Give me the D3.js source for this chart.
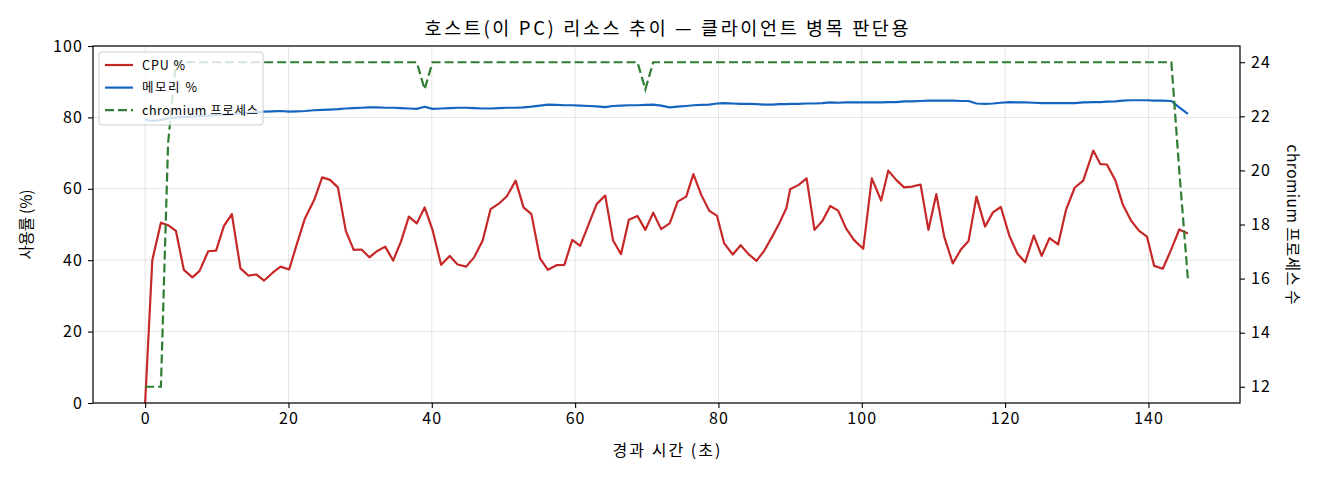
<!DOCTYPE html>
<html>
<head>
<meta charset="utf-8">
<script src="https://cdn.jsdelivr.net/npm/d3@7"></script>
<style>
  body { margin: 0; background: #fff; }
  svg text { font-family: "Noto Sans CJK KR", "Noto Sans", sans-serif; fill: #000; }
</style>
</head>
<body>
<svg width="1320" height="480"></svg>
<script>
'use strict';

// sample times (seconds since start)
var times = [0, 1.0, 2.2, 3.2, 4.3, 5.4, 6.6, 7.6, 8.8, 9.9, 11.0, 12.1, 13.3, 14.4, 15.5, 16.6, 17.8, 18.9, 20.1,
  21.2, 22.3, 23.6, 24.7, 25.8, 26.9, 28.0, 29.1, 30.2, 31.3, 32.4, 33.5, 34.6, 35.7, 36.8, 37.9, 39.0, 40.1,
  41.3, 42.5, 43.6, 44.8, 45.9, 47.1, 48.2, 49.4, 50.5, 51.7, 52.8, 53.9, 55.1, 56.2, 57.4, 58.5, 59.6, 60.7,
  61.9, 63.0, 64.2, 65.3, 66.4, 67.5, 68.7, 69.8, 70.9, 72.0, 73.2, 74.3, 75.5, 76.5, 77.6, 78.7, 79.8, 80.8,
  82.0, 83.1, 84.2, 85.3, 86.4, 87.5, 88.6, 89.5, 90.0, 91.2, 92.3, 93.4, 94.5, 95.6, 96.7, 97.8, 98.9, 100.2,
  101.4, 102.7, 103.7, 104.8, 105.9, 107.0, 108.2, 109.3, 110.4, 111.5, 112.7, 113.8, 114.9, 116.0, 117.2, 118.3,
  119.4, 120.6, 121.7, 122.8, 124.0, 125.1, 126.2, 127.4, 128.5, 129.7, 130.9, 132.3, 133.3, 134.2, 135.4, 136.4,
  137.6, 138.7, 139.8, 140.8, 142.0, 143.2, 144.3, 145.5];

var cpu = [0, 40.0, 50.5, 49.8, 48.2, 37.3, 35.2, 37.0, 42.5, 42.7, 49.6, 52.9, 37.7, 35.7, 36.0, 34.3, 36.5, 38.2, 37.4,
  44.7, 51.7, 56.9, 63.2, 62.5, 60.4, 48.2, 42.9, 43.0, 40.8, 42.6, 43.8, 39.9, 45.2, 52.2, 50.3, 54.8, 48.5,
  38.7, 41.2, 38.8, 38.2, 40.8, 45.5, 54.3, 55.9, 58.0, 62.3, 54.8, 52.9, 40.5, 37.3, 38.6, 38.7, 45.7, 44.0,
  50.1, 55.7, 58.1, 45.5, 41.7, 51.3, 52.4, 48.5, 53.3, 48.7, 50.3, 56.4, 57.8, 64.1, 58.3, 53.9, 52.4, 44.7,
  41.6, 44.2, 41.7, 39.8, 42.7, 46.6, 50.8, 54.7, 59.9, 61.1, 62.9, 48.5, 51.0, 55.2, 53.9, 48.9, 45.7, 43.2,
  62.9, 56.7, 65.1, 62.5, 60.4, 60.6, 61.2, 48.5, 58.5, 46.6, 39.1, 42.9, 45.4, 57.8, 49.4, 53.4,
  54.9, 46.8, 41.9, 39.4, 46.9, 41.2, 46.2, 44.4, 54.1, 60.3, 62.3, 70.7, 66.9, 66.8, 62.3, 55.7,
  51.0, 48.2, 46.6, 38.4, 37.6, 43.1, 48.6, 47.5];

var memory = [79.4, 79.0, 79.3, 79.7, 80.0, 80.1, 80.2, 80.4, 80.5, 80.7, 80.8, 80.9, 81.1, 81.3, 81.4, 81.6, 81.7, 81.8, 81.6,
  81.7, 81.8, 82.0, 82.1, 82.2, 82.3, 82.5, 82.6, 82.7, 82.8, 82.8, 82.7, 82.7, 82.6, 82.5, 82.4, 83.0, 82.4,
  82.5, 82.6, 82.7, 82.7, 82.6, 82.5, 82.5, 82.6, 82.7, 82.7, 82.8, 83.0, 83.3, 83.6, 83.5, 83.4, 83.4, 83.3,
  83.2, 83.1, 82.9, 83.2, 83.3, 83.4, 83.4, 83.5, 83.6, 83.3, 82.8, 83.0, 83.2, 83.4, 83.5, 83.6, 83.9, 84.0,
  83.9, 83.8, 83.8, 83.7, 83.6, 83.6, 83.7, 83.7, 83.8, 83.8, 83.9, 83.9, 84.0, 84.2, 84.1, 84.2, 84.2, 84.2,
  84.2, 84.2, 84.3, 84.3, 84.5, 84.5, 84.6, 84.7, 84.7, 84.7, 84.7, 84.6, 84.6, 83.9, 83.8, 83.9,
  84.1, 84.3, 84.2, 84.2, 84.1, 84.0, 84.0, 84.0, 84.0, 84.0, 84.2, 84.3, 84.3, 84.4, 84.5, 84.7,
  84.8, 84.8, 84.8, 84.7, 84.7, 84.6, 82.8, 81.0];

var chromium = [12, 12, 12, 21, 24, 24, 24, 24, 24, 24, 24, 24, 24, 24, 24, 24, 24, 24, 24,
  24, 24, 24, 24, 24, 24, 24, 24, 24, 24, 24, 24, 24, 24, 24, 24, 23, 24,
  24, 24, 24, 24, 24, 24, 24, 24, 24, 24, 24, 24, 24, 24, 24, 24, 24, 24,
  24, 24, 24, 24, 24, 24, 24, 23, 24, 24, 24, 24, 24, 24, 24, 24, 24, 24,
  24, 24, 24, 24, 24, 24, 24, 24, 24, 24, 24, 24, 24, 24, 24, 24, 24, 24,
  24, 24, 24, 24, 24, 24, 24, 24, 24, 24, 24, 24, 24, 24, 24, 24,
  24, 24, 24, 24, 24, 24, 24, 24, 24, 24, 24, 24, 24, 24, 24, 24,
  24, 24, 24, 24, 24, 24, 20, 16];

var xTicks = [0, 20, 40, 60, 80, 100, 120, 140];
var leftTicks = [0, 20, 40, 60, 80, 100];
var rightTicks = [12, 14, 16, 18, 20, 22, 24];

var seriesNames = ['CPU %', '메모리 %', 'chromium 프로세스'];
var seriesColors = ['#c62828', '#1565c0', '#2e7d32'];

var plotL = 93, plotR = 1240, plotT = 46, plotB = 403;

var svg = d3.select('svg');

var x = d3.scaleLinear().domain([-7.275, 152.775]).range([plotL, plotR]);
var yLeft = d3.scaleLinear().domain([0, 100]).range([plotB, plotT]);
var yRight = d3.scaleLinear().domain([11.4, 24.6]).range([plotB, plotT]);

// grid
var grid = svg.append('g');
grid.selectAll('line.gx').data(xTicks).enter().append('line')
    .attr('x1', function(d){ return x(d); }).attr('x2', function(d){ return x(d); })
    .attr('y1', plotT).attr('y2', plotB)
    .attr('stroke', '#000').attr('stroke-opacity', 0.1).attr('stroke-width', 1);
grid.selectAll('line.gy').data(leftTicks).enter().append('line')
    .attr('x1', plotL).attr('x2', plotR)
    .attr('y1', function(d){ return yLeft(d); }).attr('y2', function(d){ return yLeft(d); })
    .attr('stroke', '#000').attr('stroke-opacity', 0.1).attr('stroke-width', 1);

var rows = times.map(function(t, i){
    return {t: t, cpu: cpu[i], mem: memory[i], chr: chromium[i]};
});

var plot = svg.append('g');

plot.append('path').datum(rows)
    .attr('fill', 'none').attr('stroke', seriesColors[0]).attr('stroke-width', 2.2)
    .attr('stroke-linejoin', 'round')
    .attr('d', d3.line().x(function(d){ return x(d.t); }).y(function(d){ return yLeft(d.cpu); }));

plot.append('path').datum(rows)
    .attr('fill', 'none').attr('stroke', seriesColors[1]).attr('stroke-width', 2.2)
    .attr('stroke-linejoin', 'round')
    .attr('d', d3.line().x(function(d){ return x(d.t); }).y(function(d){ return yLeft(d.mem); }));

plot.append('path').datum(rows)
    .attr('fill', 'none').attr('stroke', seriesColors[2]).attr('stroke-width', 2.2)
    .attr('stroke-dasharray', '9,4')
    .attr('d', d3.line().x(function(d){ return x(d.t); }).y(function(d){ return yRight(d.chr); }));

// frame
svg.append('rect')
    .attr('x', plotL).attr('y', plotT).attr('width', plotR - plotL).attr('height', plotB - plotT)
    .attr('fill', 'none').attr('stroke', '#000').attr('stroke-width', 1.2);

// axes
var xAxis = svg.append('g').attr('transform', 'translate(0,' + plotB + ')')
    .call(d3.axisBottom(x).tickValues(xTicks).tickSize(5).tickPadding(5));
var lAxis = svg.append('g').attr('transform', 'translate(' + plotL + ',0)')
    .call(d3.axisLeft(yLeft).tickValues(leftTicks).tickSize(5).tickPadding(5));
var rAxis = svg.append('g').attr('transform', 'translate(' + plotR + ',0)')
    .call(d3.axisRight(yRight).tickValues(rightTicks).tickSize(5).tickPadding(6));

[xAxis, lAxis, rAxis].forEach(function(a){
    a.select('.domain').remove();
    a.selectAll('text').attr('font-size', 16).attr('fill', '#000')
        .style('letter-spacing', '1.1px')
        .style('font-family', '"Noto Sans CJK KR", sans-serif');
    a.selectAll('line').attr('stroke', '#000').attr('stroke-width', 1.1);
});

// titles (textLength to match the wider Korean face of the original)
svg.append('text').attr('x', (plotL + plotR) / 2).attr('y', 35)
    .attr('text-anchor', 'middle').attr('font-size', 18.5)
    .attr('textLength', 484).attr('lengthAdjust', 'spacing')
    .text('호스트(이 PC) 리소스 추이 — 클라이언트 병목 판단용');

svg.append('text').attr('x', (plotL + plotR) / 2).attr('y', 456)
    .attr('text-anchor', 'middle').attr('font-size', 16)
    .attr('textLength', 108).attr('lengthAdjust', 'spacing')
    .text('경과 시간 (초)');

svg.append('text').attr('transform', 'translate(32,' + ((plotT + plotB) / 2) + ') rotate(-90)')
    .attr('text-anchor', 'middle').attr('font-size', 15.5)
    .attr('textLength', 70).attr('lengthAdjust', 'spacing')
    .text('사용률 (%)');

svg.append('text').attr('transform', 'translate(1287,' + ((plotT + plotB) / 2) + ') rotate(90)')
    .attr('text-anchor', 'middle').attr('font-size', 15.5)
    .attr('textLength', 160).attr('lengthAdjust', 'spacing')
    .text('chromium 프로세스 수');

// legend
var legendWidths = [43, 55, 116];
var legend = svg.append('g').attr('transform', 'translate(99,52)');
legend.append('rect')
    .attr('width', 164).attr('height', 73).attr('rx', 3)
    .attr('fill', '#fff').attr('fill-opacity', 0.8)
    .attr('stroke', '#ccc').attr('stroke-width', 1);

var items = legend.selectAll('g.item').data(seriesNames).enter().append('g')
    .attr('transform', function(d, i){ return 'translate(0,' + (13 + i * 22.6) + ')'; });
items.append('line')
    .attr('x1', 6).attr('x2', 34).attr('y1', 0).attr('y2', 0)
    .attr('stroke', function(d, i){ return seriesColors[i]; })
    .attr('stroke-width', 2.2)
    .attr('stroke-dasharray', function(d, i){ return i === 2 ? '9,4' : null; });
items.append('text')
    .attr('x', 43).attr('y', 4.5).attr('font-size', 12.5)
    .attr('textLength', function(d, i){ return legendWidths[i]; })
    .attr('lengthAdjust', 'spacing')
    .text(function(d){ return d; });
</script>
</body>
</html>
